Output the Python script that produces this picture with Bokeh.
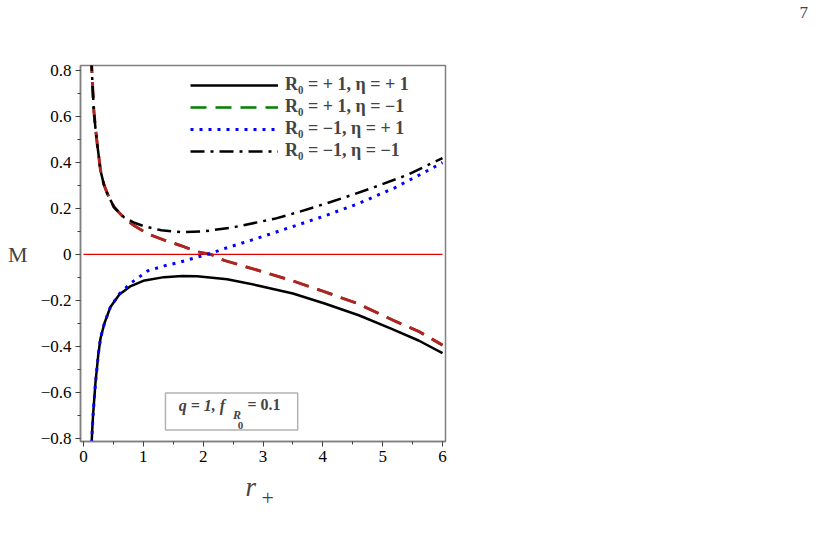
from bokeh.plotting import figure
from bokeh.models import Range1d, Legend, LegendItem, Label, BoxAnnotation, FixedTicker, LinearAxis
from bokeh.embed import file_html
from bokeh.resources import INLINE

# ---- data ----
R_SOLID = [0.13, 0.145, 0.16, 0.2, 0.25, 0.285, 0.35, 0.45, 0.6, 0.79, 1.0, 1.345, 1.65, 1.9, 2.4, 2.91, 3.5, 4.03, 4.6, 5.14, 5.6, 6.0]
M_SOLID = [-0.86, -0.77, -0.70, -0.56, -0.43, -0.365, -0.30, -0.229, -0.175, -0.138, -0.115, -0.099, -0.094, -0.095, -0.108, -0.135, -0.17, -0.214, -0.265, -0.323, -0.375, -0.43]

R_DASH = [0.13, 0.145, 0.173, 0.2, 0.23, 0.285, 0.34, 0.4, 0.51, 0.675, 0.85, 1.07, 1.35, 1.62, 1.9, 2.13, 2.35, 2.9, 3.47, 4.0, 4.58, 5.2, 5.6, 6.0]
M_DASH = [0.86, 0.77, 0.626, 0.55, 0.48, 0.365, 0.305, 0.264, 0.206, 0.16, 0.125, 0.09, 0.062, 0.039, 0.012, 0.0, -0.026, -0.068, -0.113, -0.16, -0.214, -0.29, -0.335, -0.395]

R_DOT = [0.13, 0.145, 0.16, 0.2, 0.25, 0.285, 0.35, 0.45, 0.6, 0.79, 1.07, 1.35, 1.62, 1.9, 2.13, 2.35, 2.9, 3.47, 4.0, 4.58, 5.2, 5.7, 6.0]
M_DOT = [-0.86, -0.77, -0.70, -0.56, -0.43, -0.365, -0.30, -0.229, -0.172, -0.125, -0.072, -0.05, -0.033, -0.012, 0.005, 0.025, 0.07, 0.119, 0.165, 0.22, 0.29, 0.358, 0.40]

R_DASHDOT = [0.13, 0.145, 0.173, 0.2, 0.23, 0.285, 0.34, 0.4, 0.51, 0.675, 0.85, 1.01, 1.3, 1.65, 2.0, 2.5, 3.19, 3.6, 4.03, 4.5, 4.86, 5.4, 5.92, 6.0]
M_DASHDOT = [0.86, 0.77, 0.626, 0.55, 0.48, 0.365, 0.305, 0.264, 0.206, 0.162, 0.138, 0.123, 0.105, 0.097, 0.10, 0.118, 0.155, 0.185, 0.22, 0.26, 0.293, 0.345, 0.41, 0.42]

R_ZERO = [0.0, 6.0]
M_ZERO = [0.0, 0.0]

LEGEND_LABELS = ["R\u2080 = + 1, \u03b7 = + 1", "R\u2080 = + 1, \u03b7 = \u22121",
                 "R\u2080 = \u22121, \u03b7 = + 1", "R\u2080 = \u22121, \u03b7 = \u22121"]

X_TICKS = [0, 1, 2, 3, 4, 5, 6]
X_TICK_LABELS = ["0", "1", "2", "3", "4", "5", "6"]
Y_TICKS = [-0.8, -0.6, -0.4, -0.2, 0.0, 0.2, 0.4, 0.6, 0.8]
Y_TICK_LABELS = ["\u22120.8", "\u22120.6", "\u22120.4", "\u22120.2", "0", "0.2", "0.4", "0.6", "0.8"]

SERIF = "Liberation Serif"

p = figure(width=830, height=552, output_backend="svg", toolbar_location=None,
           x_range=Range1d(-0.05, 6.05), y_range=Range1d(-0.815, 0.823),
           min_border_left=80, min_border_right=385, min_border_top=64, min_border_bottom=111)
p.background_fill_color = "white"
p.border_fill_color = "white"
p.grid.visible = False
p.outline_line_color = "#808080"
p.outline_line_width = 1.5

for ax in (p.xaxis[0], p.yaxis[0]):
    ax.axis_line_color = "#808080"
    ax.axis_line_width = 1.5
    ax.major_tick_line_color = "#404040"
    ax.minor_tick_line_color = "#404040"
    ax.major_tick_in = 0
    ax.major_tick_out = 5
    ax.minor_tick_in = 0
    ax.minor_tick_out = 3
    ax.major_label_text_font = SERIF
    ax.major_label_text_font_size = "17px"
    ax.major_label_text_color = "black"
    ax.major_label_standoff = 4

p.xaxis.ticker = FixedTicker(ticks=X_TICKS, minor_ticks=[0.5, 1.5, 2.5, 3.5, 4.5, 5.5])
p.xaxis.major_label_overrides = {t: l for t, l in zip(X_TICKS, X_TICK_LABELS)}
p.yaxis.ticker = FixedTicker(ticks=Y_TICKS, minor_ticks=[-0.7, -0.5, -0.3, -0.1, 0.1, 0.3, 0.5, 0.7])
p.yaxis.major_label_overrides = {t: l for t, l in zip(Y_TICKS, Y_TICK_LABELS)}

# x axis label: italic r, with the "+" given by a second, bare axis below
p.xaxis.axis_label = "r\u2002\u2009\u2009"
p.xaxis.axis_label_text_font = SERIF
p.xaxis.axis_label_text_font_style = "italic"
p.xaxis.axis_label_text_font_size = "27px"
p.xaxis.axis_label_standoff = 7

plus_axis = LinearAxis(ticker=FixedTicker(ticks=[3.08]), major_label_overrides={3.08: "+"},
                       axis_line_color=None, major_tick_line_color=None, minor_tick_line_color=None,
                       major_label_text_font=SERIF, major_label_text_font_size="22px",
                       major_label_standoff=-20)
p.add_layout(plus_axis, "below")

# y axis name "M", horizontal, via a second bare axis on the left
m_axis = LinearAxis(ticker=FixedTicker(ticks=[0.0]), major_label_overrides={0: "M"},
                    axis_line_color=None, major_tick_line_color=None, minor_tick_line_color=None,
                    major_label_text_font=SERIF, major_label_text_font_size="22px",
                    major_label_standoff=4)
p.add_layout(m_axis, "left")

# page number (top line of a three-line title, so that it sits at the top of the page)
p.title.text = "7\n\n"
p.title.align = "left"
p.title.offset = 719
p.title.standoff = 0
p.title.vertical_align = "bottom"
p.title.text_font = SERIF
p.title.text_font_size = "17px"
p.title.text_line_height = 1.15
p.title.text_font_style = "normal"

# zero line
p.line(R_ZERO, M_ZERO, line_color="#e00000", line_width=1.2)

r1 = p.line(R_SOLID, M_SOLID, line_color="black", line_width=2.5)
r2 = p.line(R_DASH, M_DASH, line_color="green", line_width=2.5, line_dash="16 9")
p.line(R_DASH, M_DASH, line_color="#b22222", line_width=3, line_dash="16 9")
r3 = p.line(R_DOT, M_DOT, line_color="blue", line_width=3, line_dash="3 6")
r4 = p.line(R_DASHDOT, M_DASHDOT, line_color="black", line_width=2.5, line_dash="14 6 3 6")

legend = Legend(items=[LegendItem(label=LEGEND_LABELS[0], renderers=[r1]),
                       LegendItem(label=LEGEND_LABELS[1], renderers=[r2]),
                       LegendItem(label=LEGEND_LABELS[2], renderers=[r3]),
                       LegendItem(label=LEGEND_LABELS[3], renderers=[r4])],
                location=(110, 280))
legend.border_line_color = None
legend.background_fill_alpha = 0
legend.padding = 0
legend.margin = 0
legend.spacing = 1
legend.glyph_width = 88
legend.glyph_height = 20
legend.label_height = 20
legend.label_standoff = 7
legend.label_text_font = SERIF
legend.label_text_font_style = "bold"
legend.label_text_font_size = "18px"
p.add_layout(legend)

# parameter box
p.add_layout(BoxAnnotation(left=1.37, right=3.58, bottom=-0.765, top=-0.604,
                           fill_color="white", fill_alpha=1, line_color="black", line_width=1.5))
p.add_layout(Label(x=1.59, y=-0.66, text="q = 1,  f", text_font=SERIF, text_font_style="bold italic",
                   text_font_size="16px", text_baseline="middle", text_align="left"))
p.add_layout(Label(x=2.5, y=-0.7, text="R", text_font=SERIF, text_font_style="bold italic",
                   text_font_size="12px", text_baseline="middle", text_align="left"))
p.add_layout(Label(x=2.58, y=-0.745, text="0", text_font=SERIF, text_font_style="bold",
                   text_font_size="11px", text_baseline="middle", text_align="left"))
p.add_layout(Label(x=2.74, y=-0.655, text="= 0.1", text_font=SERIF, text_font_style="bold",
                   text_font_size="16px", text_baseline="middle", text_align="left"))

open("out.html", "w").write(file_html(p, INLINE))
